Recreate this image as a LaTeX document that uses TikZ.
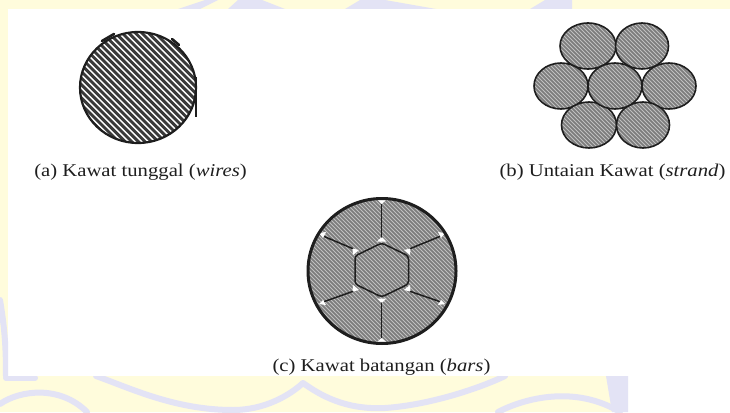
\documentclass[tikz,border=0pt]{standalone}
\usepackage{graphicx}
\usepackage{fontspec}
\setmainfont{Liberation Serif}
\definecolor{bgyellow}{HTML}{FFFCDC}
\definecolor{lav}{HTML}{E3E3F5}
\definecolor{ink}{HTML}{1E1E1E}
\definecolor{stripe}{HTML}{3A3A3A}
\definecolor{wiregray}{HTML}{7C7C7C}
\definecolor{wirelight}{HTML}{C0C0C0}
\tikzset{
  x=1pt,y=-1pt,
  wash/.style={draw=lav,line width=6pt,line cap=round,line join=round},
  caption/.style={inner sep=0pt,text=ink,font=\fontsize{18}{20}\selectfont},
  outline/.style={draw=ink,line width=1.6pt},
  thickedge/.style={draw=ink,line width=2.6pt,line cap=round},
  finehatch/.style={draw=wirelight,line width=1pt},
  coarsehatch/.style={draw=stripe,line width=2.9pt},
  seam/.style={draw=ink,line width=1.5pt,line cap=round},
  gap/.style={fill=white,draw=none}
}
% grey strand with fine hatching: centre x, centre y, x radius, y radius
\newcommand{\finewire}[4]{%
  \begin{scope}
    \clip (#1,#2) ellipse [x radius=#3,y radius=#4];
    \fill[wiregray] (#1,#2) ellipse [x radius=#3,y radius=#4];
    \foreach \o in {-126,-122,...,126}
      \draw[finehatch] (#1+\o-90,#2-90) -- (#1+\o+90,#2+90);
  \end{scope}
  \draw[outline] (#1,#2) ellipse [x radius=#3,y radius=#4];
}
\begin{document}
\begin{tikzpicture}
\useasboundingbox (0,0) rectangle (730,412);
% page background with watermark
\fill[white] (0,0) rectangle (730,412);
\fill[bgyellow] (0,0) rectangle (730,9);
\fill[bgyellow] (0,0) rectangle (8,376);
\fill[bgyellow] (0,376) rectangle (628,412);
\begin{scope}
  \clip (0,0) rectangle (730,9);
  \fill[lav] (178,9) -- (205,0) -- (218,0) -- (200,9) -- cycle;
  \fill[lav] (228,9) -- (238,0) -- (262,0) -- (285,9) -- cycle;
  \fill[lav] (345,9) -- (360,0) -- (385,0) -- (436,9) -- cycle;
  \fill[lav] (530,9) -- (545,0) -- (572,0) -- (572,9) -- cycle;
\end{scope}
\begin{scope}
  \clip (0,0) rectangle (8,376);
  \draw[wash] (0,300) .. controls (5,330) and (6,350) .. (6,376);
\end{scope}
\begin{scope}
  \clip (0,376) rectangle (628,412);
  \draw[wash] (96,376) .. controls (130,388) and (175,410) .. (233,410)
     .. controls (265,410) and (290,395) .. (303,383)
     .. controls (320,395) and (345,410) .. (385,408)
     .. controls (430,405) and (480,388) .. (505,376);
  \draw[wash] (0,404) .. controls (20,390) and (60,385) .. (87,412);
  \draw[wash] (498,412) .. controls (525,398) and (575,385) .. (620,412);
  \draw[wash] (6,378) -- (35,378);
  \fill[lav] (606,376) -- (628,376) -- (628,412) -- (612,412) -- cycle;
\end{scope}
% (a) single wire
\begin{scope}
  \clip (138,87.5) ellipse [x radius=58,y radius=55.5];
  \fill[white] (138,87.5) ellipse [x radius=58,y radius=55.5];
  \foreach \o in {-133,-126.4,...,133}
    \draw[coarsehatch] (138+\o-80,87.5-80) -- (138+\o+80,87.5+80);
\end{scope}
\draw[draw=ink,line width=2.2pt] (138,87.5) ellipse [x radius=58,y radius=55.5];
\draw[thickedge] (102,41) -- (114,34);
\draw[thickedge] (172,39) -- (179,45);
\draw[draw=ink,line width=2pt] (195.5,77) -- (195.5,117);
% (b) strand
\finewire{561}{86}{27}{23}
\finewire{669}{86}{27}{23}
\finewire{588}{46}{28}{23}
\finewire{642}{46}{26.5}{23}
\finewire{589}{125}{27.5}{23}
\finewire{643}{125}{26.5}{23}
\finewire{615}{86}{27}{23}
% (c) bar
\begin{scope}
  \clip (382,271) ellipse [x radius=74,y radius=72.5];
  \fill[wiregray] (382,271) ellipse [x radius=74,y radius=72.5];
  \foreach \o in {-168,-164,...,168}
    \draw[finehatch] (382+\o-90,271-90) -- (382+\o+90,271+90);
\end{scope}
\coordinate (hT) at (381.7,243);
\coordinate (hUR) at (408.5,256);
\coordinate (hLR) at (408.5,284);
\coordinate (hB) at (381.7,297);
\coordinate (hLL) at (355,284);
\coordinate (hUL) at (355,256);
\fill[gap] (377,241.5) -- (386.5,241.5) -- (381.7,237) -- cycle;
\fill[gap] (404,250) -- (410.5,248.5) -- (410,255) -- cycle;
\fill[gap] (404,290) -- (410.5,291.5) -- (410,285) -- cycle;
\fill[gap] (377,298.5) -- (386.5,298.5) -- (381.7,303) -- cycle;
\fill[gap] (359,290) -- (352.5,291.5) -- (353,285) -- cycle;
\fill[gap] (359,250) -- (352.5,248.5) -- (353,255) -- cycle;
\draw[seam,rounded corners=3pt] (hT) -- (hUR) -- (hLR) -- (hB) -- (hLL) -- (hUL) -- cycle;
\draw[seam] (381.7,237) -- (381.7,202);
\draw[seam] (381.7,303) -- (381.7,339);
\draw[seam] (410.5,248.5) -- (441,236);
\draw[seam] (410.5,291.5) -- (441,302);
\draw[seam] (352.5,248.5) -- (323,236);
\draw[seam] (352.5,291.5) -- (323,302);
\fill[gap] (377,199.5) -- (386.5,199.5) -- (381.7,204) -- cycle;
\fill[gap] (377,342) -- (386.5,342) -- (381.7,338) -- cycle;
\fill[gap] (438,232) -- (445,233) -- (441,238) -- cycle;
\fill[gap] (438,305) -- (445,304) -- (441,300) -- cycle;
\fill[gap] (326,232) -- (319,233) -- (323,238) -- cycle;
\fill[gap] (326,305) -- (319,304) -- (323,300) -- cycle;
\draw[draw=ink,line width=3pt] (382,271) ellipse [x radius=74,y radius=72.5];
% captions
\node[caption] (capa) at (140.5,172) {\scalebox{1.15}[1]{(a) Kawat tunggal (\textit{wires})}};
\node[caption] (capb) at (612.5,172) {\scalebox{1.15}[1]{(b) Untaian Kawat (\textit{strand})}};
\node[caption] (capc) at (381.5,367) {\scalebox{1.15}[1]{(c) Kawat batangan (\textit{bars})}};
\end{tikzpicture}
\end{document}
